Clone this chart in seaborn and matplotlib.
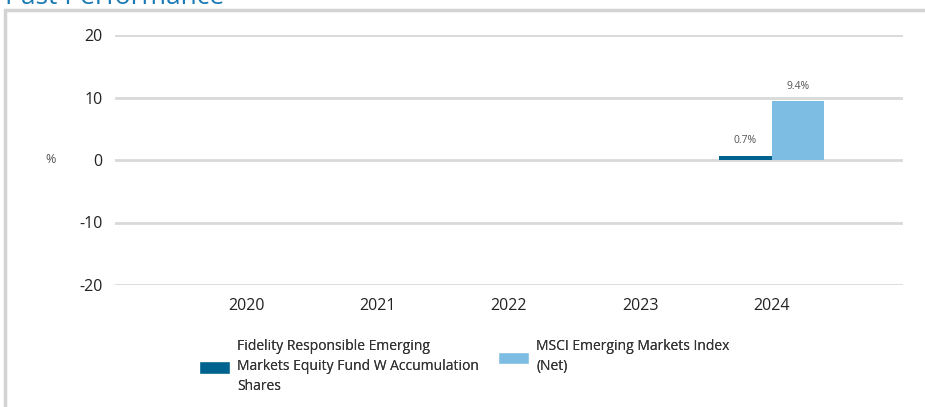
import seaborn as sns
import matplotlib.pyplot as plt
import pandas as pd
from matplotlib.lines import Line2D
from matplotlib.patches import Patch

years = ["2020", "2021", "2022", "2023", "2024"]
fund_name = "Fidelity Responsible Emerging\nMarkets Equity Fund W Accumulation\nShares"
index_name = "MSCI Emerging Markets Index\n(Net)"
fund_returns = [None, None, None, None, 0.7]
index_returns = [None, None, None, None, 9.4]
y_ticks = [-20, -10, 0, 10, 20]

fund_color = "#00628f"
index_color = "#7dbce3"
grid_color = "#d9d9d9"

df = pd.DataFrame({
    "year": years * 2,
    "series": [fund_name] * len(years) + [index_name] * len(years),
    "value": fund_returns + index_returns,
})

sns.set_theme(style="white")
plt.rcParams["font.family"] = ["Open Sans", "DejaVu Sans"]
plt.rcParams["axes.unicode_minus"] = False

fig = plt.figure(figsize=(9.25, 4.07), dpi=100)
ax = fig.add_axes([115 / 925, 1 - 285 / 407, 788 / 925, 250 / 407])

sns.barplot(data=df.dropna(), x="year", y="value", hue="series", order=years,
            hue_order=[fund_name, index_name],
            palette=[fund_color, index_color], width=0.8, saturation=1,
            linewidth=0, legend=False, ax=ax, zorder=3)

ax.set_xlim(-1, 5)
ax.set_ylim(-20, 20)
ax.set_yticks(y_ticks)
for t in y_ticks:
    ax.axhline(t, color=grid_color, lw=2, zorder=1)
for s in ax.spines.values():
    s.set_visible(False)
ax.tick_params(axis="both", length=0, labelsize=11.5, colors="#222222")
ax.tick_params(axis="y", pad=9)
ax.tick_params(axis="x", pad=9)
ax.set_xlabel("")
ax.set_ylabel("")

# value labels
for cont in ax.containers:
    labels = [f"{v:.1f}%" for v in cont.datavalues]
    ax.bar_label(cont, labels=labels, padding=7, fontsize=7.5, color="#555555")

fig.text(45 / 925, 1 - 159 / 407, "%", fontsize=9, color="#555555", va="center", ha="left")

# legend: two boxes so both texts are top-aligned
legend_kw = dict(loc="upper left", frameon=False, fontsize=10, handlelength=2.3,
                 handleheight=1.0, handletextpad=0.5, labelcolor="#333333")
for color, name, x0 in [(fund_color, fund_name, 186), (index_color, index_name, 485)]:
    leg = fig.legend([Patch(facecolor=color)], [name],
                     bbox_to_anchor=(x0 / 925, 1 - 327 / 407), **legend_kw)
    for t in leg.get_texts():
        t.set_linespacing(1.45)
    fig.add_artist(leg)

# cut-off title and frame
fig.text(5 / 925, 1 - 4 / 407, "Past Performance", fontsize=19, color="#1a7ab5",
         ha="left", va="baseline")
fig.add_artist(Line2D([5 / 925, 1], [1 - 10 / 407] * 2, color="#d3d3d3", lw=2.5,
                      transform=fig.transFigure))
fig.add_artist(Line2D([5 / 925] * 2, [0, 1 - 10 / 407], color="#d3d3d3", lw=2.5,
                      transform=fig.transFigure))

fig.savefig("out.png", dpi=100)
